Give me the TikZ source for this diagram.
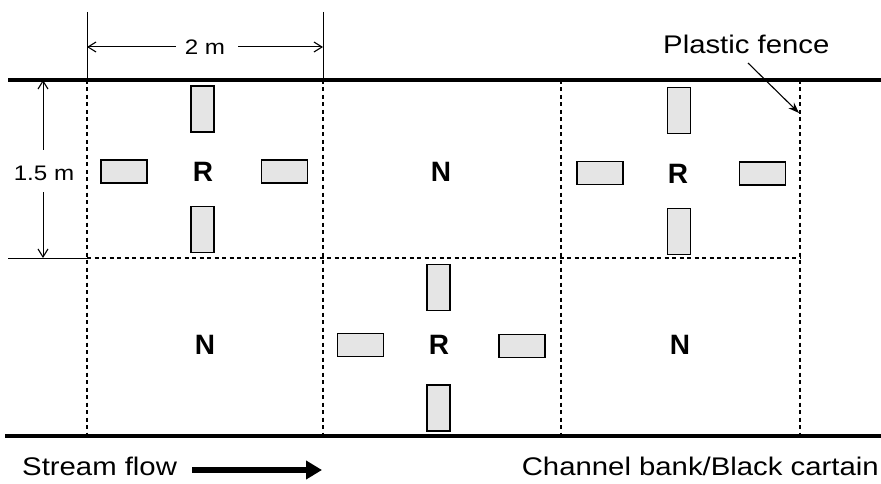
\documentclass[tikz,border=0pt]{standalone}
\usepackage{fontspec}
\setmainfont{Liberation Sans}
\newfontfamily\lab[FakeStretch=1.15]{Liberation Sans}
\usetikzlibrary{arrows.meta}
\tikzset{
  bank/.style={line width=4.5pt},
  grid/.style={line width=2.2pt, dash pattern=on 4pt off 3.5pt},
  ext/.style={line width=1pt},
  dimarrow/.style={line width=1pt, -{Straight Barb[length=8pt,width=10pt,line width=1.1pt]}},
  vbox/.style={draw, line width=1.6pt, fill=black!10, minimum width=23pt, minimum height=46pt, inner sep=0pt},
  hbox/.style={draw, line width=1.6pt, fill=black!10, minimum width=46pt, minimum height=23pt, inner sep=0pt},
  plot/.style={font=\bfseries\fontsize{28}{28}\selectfont, inner sep=0pt},
  txt/.style={font=\lab\fontsize{25.5}{25.5}\selectfont, inner sep=0pt},
  dimtxt/.style={font=\lab\fontsize{21}{21}\selectfont, inner sep=0pt}
}
\begin{document}
\begin{tikzpicture}[x=1pt,y=-1pt]
\useasboundingbox (0,0) rectangle (881,484);

% grid corners
\coordinate (tl) at (8,80);   \coordinate (tr) at (881,80);
\coordinate (bl) at (5,436);  \coordinate (br) at (881,436);
\coordinate (m0) at (8,258);  \coordinate (m1) at (87,258); \coordinate (m4) at (800,258);
\foreach \i/\x in {1/87,2/323,3/561,4/800}{
  \coordinate (t\i) at (\x,80);
  \coordinate (b\i) at (\x,436);
}
\coordinate (e1) at (87,12);
\coordinate (e2) at (323,12);

% plot boundaries (plastic fence)
\foreach \i in {1,...,4}{ \draw[grid] (t\i) -- (b\i); }
\draw[grid] (m1) -- (m4);

% channel banks
\draw[bank] (tl) -- (tr);
\draw[bank] (bl) -- (br);

% extension lines for the dimensions
\draw[ext] (e1) -- (t1);
\draw[ext] (e2) -- (t2);
\draw[ext] (m0) -- (m1);

% width dimension
\node[dimtxt] (w) at (205,47) {2 m};
\coordinate (wl) at (87,47);
\coordinate (wr) at (323,47);
\draw[dimarrow] (w.west) ++(-9,0) -- (wl);
\draw[dimarrow] (w.east) ++(13,0) -- (wr);

% length dimension
\node[dimtxt] (h) at (44,173) {1.5 m};
\coordinate (ht) at (43,80);
\coordinate (hb) at (43,258);
\draw[dimarrow] (43,150) -- (ht);
\draw[dimarrow] (43,192) -- (hb);

% treated plots (R) with four boxes each
\node[plot] (r1) at (203,172) {R};
\node[vbox] (r1n) at (202.5,109) {};
\node[vbox] (r1s) at (202.5,229.5) {};
\node[hbox] (r1w) at (124,171.5) {};
\node[hbox] (r1e) at (284.5,171.5) {};

\node[plot] (r2) at (678,174) {R};
\node[vbox] (r2n) at (679,110.5) {};
\node[vbox] (r2s) at (679,231.5) {};
\node[hbox] (r2w) at (600,173) {};
\node[hbox] (r2e) at (762.5,173.5) {};

\node[plot] (r3) at (439,345) {R};
\node[vbox] (r3n) at (438.5,287.5) {};
\node[vbox] (r3s) at (438.5,408) {};
\node[hbox] (r3w) at (360.5,345) {};
\node[hbox] (r3e) at (522,346) {};

% control plots (N)
\node[plot] (n1) at (441,172) {N};
\node[plot] (n2) at (205,345) {N};
\node[plot] (n3) at (680,345) {N};

% plastic fence label
\node[txt, anchor=base west] (pf) at (663,54) {Plastic fence};
\coordinate (pfs) at (748,63);
\coordinate (pfe) at (799,113);
\draw[line width=1.1pt, -{Stealth[length=11pt,width=8pt]}] (pfs) -- (pfe);

% flow direction and bank label
\node[txt, anchor=base west] (sf) at (22,475) {Stream flow};
\coordinate (fs) at (192,470);
\coordinate (fe) at (322,470);
\draw[line width=6pt, -{Triangle[length=16pt,width=18pt]}] (fs) -- (fe);
\node[txt, anchor=base east] (cb) at (879,475) {Channel bank/Black cartain};
\end{tikzpicture}
\end{document}
